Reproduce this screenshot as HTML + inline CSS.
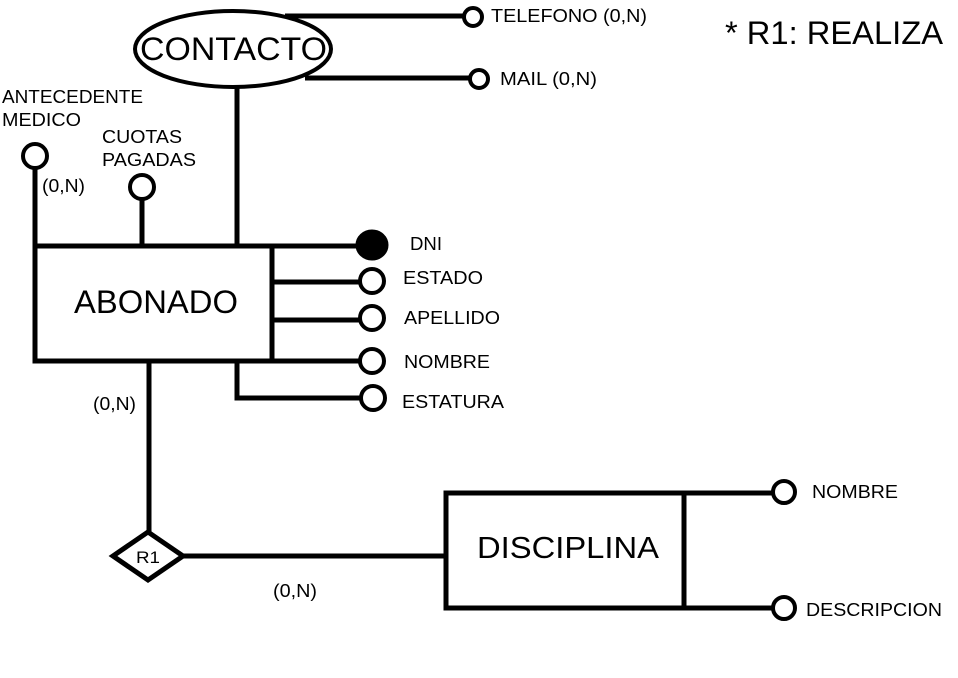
<!DOCTYPE html>
<html><head><style>body{margin:0;background:#fff}svg{display:block}text{font-family:"Liberation Sans",sans-serif;fill:#000}</style></head>
<body>
<svg width="958" height="678" viewBox="0 0 958 678" xmlns="http://www.w3.org/2000/svg">
<g stroke="#000" stroke-width="5" fill="none">
<line x1="285" y1="16" x2="464" y2="16"/>
<line x1="305" y1="78" x2="470" y2="78"/>
<ellipse cx="233" cy="49" rx="98" ry="38" fill="#fff" stroke-width="4"/>
<line x1="237" y1="87" x2="237" y2="246"/>
<line x1="35" y1="168" x2="35" y2="361"/>
<line x1="142" y1="199" x2="142" y2="246"/>
<rect x="35" y="246" width="237" height="115"/>
<line x1="272" y1="246" x2="360" y2="246"/>
<line x1="272" y1="282" x2="360" y2="282"/>
<line x1="272" y1="320" x2="360" y2="320"/>
<line x1="272" y1="361" x2="360" y2="361"/>
<polyline points="237,361 237,398 361,398"/>
<line x1="149" y1="361" x2="149" y2="534"/>
<polygon points="148,532 183,556 148,580 113,556" fill="#fff"/>
<line x1="183" y1="556" x2="446" y2="556"/>
<rect x="446" y="493" width="238" height="115"/>
<line x1="684" y1="493" x2="772" y2="493"/>
<line x1="684" y1="608" x2="772" y2="608"/>
<circle cx="473" cy="17" r="9" fill="#fff" stroke-width="4"/>
<circle cx="479" cy="79" r="9" fill="#fff" stroke-width="4"/>
<circle cx="35" cy="156" r="12" fill="#fff" stroke-width="4"/>
<circle cx="142" cy="187" r="12" fill="#fff" stroke-width="4"/>
<ellipse cx="372" cy="245" rx="14" ry="13" fill="#000"/>
<circle cx="372" cy="281" r="12" fill="#fff" stroke-width="4"/>
<circle cx="372" cy="318" r="12" fill="#fff" stroke-width="4"/>
<circle cx="372" cy="361" r="12" fill="#fff" stroke-width="4"/>
<circle cx="373" cy="398" r="12" fill="#fff" stroke-width="4"/>
<circle cx="784" cy="492" r="11" fill="#fff" stroke-width="4"/>
<circle cx="784" cy="608" r="11" fill="#fff" stroke-width="4"/>
</g>
<g lengthAdjust="spacingAndGlyphs">
<text x="140" y="60" font-size="32" textLength="187" lengthAdjust="spacingAndGlyphs">CONTACTO</text>
<text x="491" y="22" font-size="18" textLength="156" lengthAdjust="spacingAndGlyphs">TELEFONO (0,N)</text>
<text x="500" y="85" font-size="18" textLength="97" lengthAdjust="spacingAndGlyphs">MAIL (0,N)</text>
<text x="2" y="103" font-size="18" textLength="141" lengthAdjust="spacingAndGlyphs">ANTECEDENTE</text>
<text x="2" y="126" font-size="18" textLength="79" lengthAdjust="spacingAndGlyphs">MEDICO</text>
<text x="42" y="192" font-size="18" textLength="43" lengthAdjust="spacingAndGlyphs">(0,N)</text>
<text x="102" y="143" font-size="18" textLength="80" lengthAdjust="spacingAndGlyphs">CUOTAS</text>
<text x="102" y="166" font-size="18" textLength="94" lengthAdjust="spacingAndGlyphs">PAGADAS</text>
<text x="74" y="313" font-size="32" textLength="164" lengthAdjust="spacingAndGlyphs">ABONADO</text>
<text x="410" y="250" font-size="18" textLength="32" lengthAdjust="spacingAndGlyphs">DNI</text>
<text x="403" y="284" font-size="18" textLength="80" lengthAdjust="spacingAndGlyphs">ESTADO</text>
<text x="404" y="324" font-size="18" textLength="96" lengthAdjust="spacingAndGlyphs">APELLIDO</text>
<text x="404" y="368" font-size="18" textLength="86" lengthAdjust="spacingAndGlyphs">NOMBRE</text>
<text x="402" y="408" font-size="18" textLength="102" lengthAdjust="spacingAndGlyphs">ESTATURA</text>
<text x="93" y="410" font-size="18" textLength="43" lengthAdjust="spacingAndGlyphs">(0,N)</text>
<text x="136" y="563" font-size="17" textLength="24" lengthAdjust="spacingAndGlyphs">R1</text>
<text x="273" y="597" font-size="18" textLength="44" lengthAdjust="spacingAndGlyphs">(0,N)</text>
<text x="477" y="558" font-size="31" textLength="182" lengthAdjust="spacingAndGlyphs">DISCIPLINA</text>
<text x="812" y="498" font-size="18" textLength="86" lengthAdjust="spacingAndGlyphs">NOMBRE</text>
<text x="806" y="616" font-size="18" textLength="136" lengthAdjust="spacingAndGlyphs">DESCRIPCION</text>
<text x="725" y="44" font-size="32" textLength="218" lengthAdjust="spacingAndGlyphs">* R1: REALIZA</text>
</g>
</svg>
</body></html>
